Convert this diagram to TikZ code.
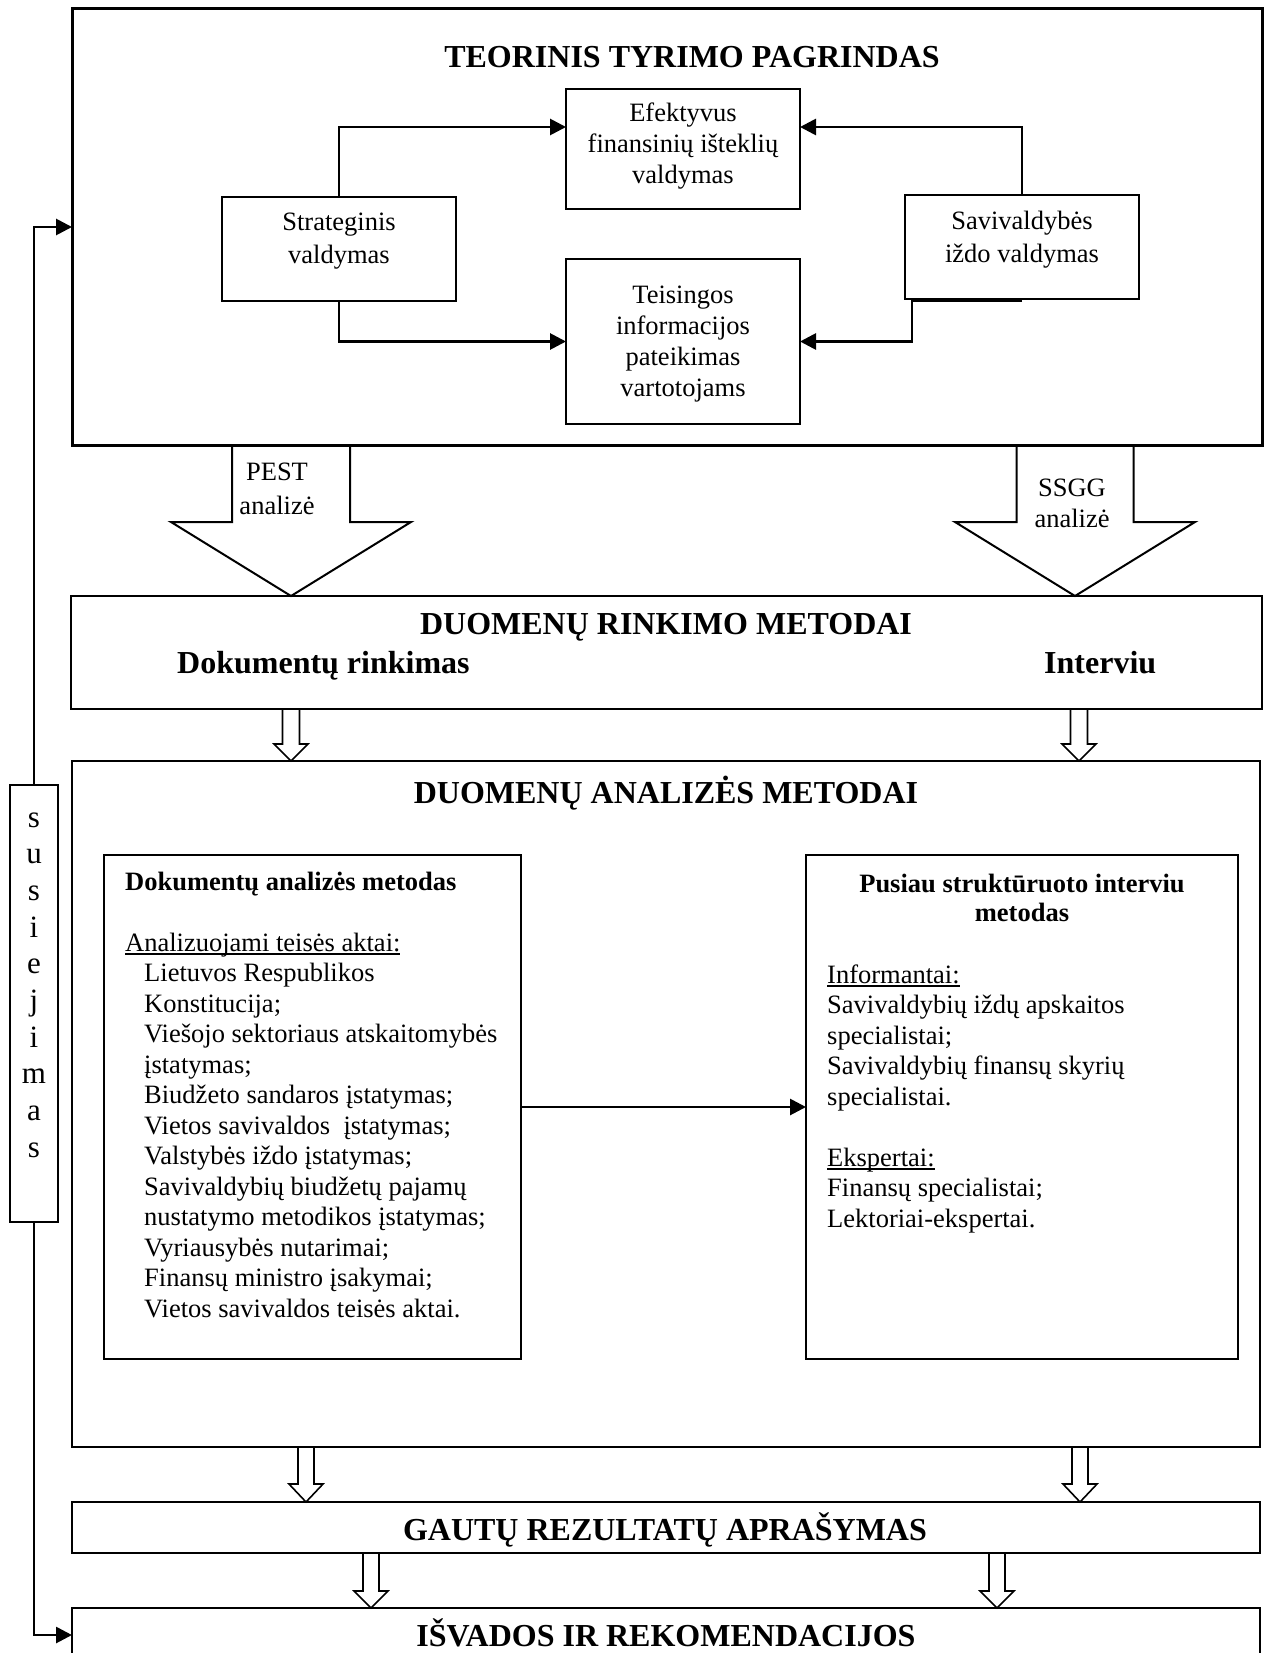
\documentclass[tikz,border=0pt]{standalone}
\usepackage{fontspec}
\setmainfont{Liberation Serif}
\usetikzlibrary{arrows.meta,calc,backgrounds}

% stacked lines whose baseline is the first line
\newcommand\colc[1]{\begin{tabular}[t]{@{}c@{}}#1\end{tabular}}
\newcommand\coll[1]{\begin{tabular}[t]{@{}l@{}}#1\end{tabular}}
% close underline
\newcommand\undl[1]{\setbox0\hbox{#1}\rlap{\rule[-3.5pt]{\wd0}{1.3pt}}\box0}
% fonts
\newcommand\fbody{\fontsize{26.5}{31}\selectfont}
\newcommand\fpair{\fontsize{26.5}{32.5}\selectfont}
\newcommand\flist{\fontsize{26.5}{30.5}\selectfont}
\newcommand\fhead{\fontsize{26.5}{29}\selectfont\bfseries}
\newcommand\ftitle{\fontsize{32}{38}\selectfont\bfseries}
\newcommand\fvert{\fontsize{31}{36.7}\selectfont}

% hollow block arrow pointing down: [style]{source}{target}{x}{shaft half}{head half}{head length}
\newcommand\blockdown[7][]{%
  \draw[blk,#1] (#4-#5,0 |- #2.south)
    -- ($(#4,0 |- #3.north)+(-#5,-#7)$)
    -- ($(#4,0 |- #3.north)+(-#6,-#7)$)
    -- (#4,0 |- #3.north)
    -- ($(#4,0 |- #3.north)+(#6,-#7)$)
    -- ($(#4,0 |- #3.north)+(#5,-#7)$)
    -- (#4+#5,0 |- #2.south);}

\tikzset{
  box/.style={draw, line width=1.4pt, rectangle, inner sep=0pt, outer sep=0pt, anchor=north west},
  txt/.style={inner sep=0pt, anchor=base},
  ltxt/.style={inner sep=0pt, anchor=base west},
  conn/.style={line width=2.8pt, -{Triangle[length=16pt,width=16pt]}},
  blk/.style={draw, fill=white, line width=2pt, line join=miter},
  small/.style={line width=1.6pt},
}

\begin{document}
\begin{tikzpicture}[x=1pt, y=-1pt]
\useasboundingbox (0,0) rectangle (1265,1653);

% ---- boxes ----
\node[box, line width=3pt, minimum width=1190pt, minimum height=436pt] (teo) at (72,9) {};
\node[box, minimum width=234pt, minimum height=120pt] (eff) at (566,89) {};
\node[box, minimum width=234pt, minimum height=165pt] (teis) at (566,259) {};
\node[box, minimum width=234pt, minimum height=104pt] (strat) at (222,197) {};
\node[box, minimum width=234pt, minimum height=104pt] (sav) at (905,195) {};
\node[box, minimum width=1191pt, minimum height=113pt] (rink) at (71,596) {};
\node[box, minimum width=1188pt, minimum height=686pt] (anal) at (72,761) {};
\node[box, minimum width=417pt, minimum height=504pt] (dam) at (104,855) {};
\node[box, minimum width=432pt, minimum height=504pt] (sim) at (806,855) {};
\node[box, minimum width=1188pt, minimum height=51pt] (gaut) at (72,1502) {};
\node[box, minimum width=1188pt, minimum height=60pt] (isv) at (72,1608) {};
\node[box, minimum width=48pt, minimum height=437pt] (sus) at (10,785) {};

% ---- texts ----
\node[txt, font=\ftitle] (teo-t) at (692,68) {TEORINIS TYRIMO PAGRINDAS};
\node[txt, font=\fbody] (eff-t) at (683,122) {\colc{Efektyvus\\finansinių išteklių\\valdymas}};
\node[txt, font=\fbody] (teis-t) at (683,303) {\colc{Teisingos\\informacijos\\pateikimas\\vartotojams}};
\node[txt, font=\fpair] (strat-t) at (339,231) {\colc{Strateginis\\valdymas}};
\node[txt, font=\fpair] (sav-t) at (1022,230) {\colc{Savivaldybės\\iždo valdymas}};

\node[txt, font=\fontsize{26.5}{34}\selectfont] (pest-t) at (277,480) {\colc{PEST\\analizė}};
\node[txt, font=\fontsize{26.5}{31}\selectfont] (ssgg-t) at (1072,496) {\colc{SSGG\\analizė}};

\node[txt, font=\ftitle] (rink-t) at (666,634) {DUOMENŲ RINKIMO METODAI};
\node[ltxt, font=\ftitle] (doc-t) at (177,673) {Dokumentų rinkimas};
\node[ltxt, font=\ftitle] (int-t) at (1044,673) {Interviu};

\node[txt, font=\ftitle] (anal-t) at (666,803) {DUOMENŲ ANALIZĖS METODAI};

\node[ltxt, font=\flist] (dam-t) at (125,890) {\coll{%
  \textbf{Dokumentų analizės metodas}\\
  \\
  \undl{Analizuojami teisės aktai:}\\
  \hspace*{19pt}Lietuvos Respublikos\\
  \hspace*{19pt}Konstitucija;\\
  \hspace*{19pt}Viešojo sektoriaus atskaitomybės\\
  \hspace*{19pt}įstatymas;\\
  \hspace*{19pt}Biudžeto sandaros įstatymas;\\
  \hspace*{19pt}Vietos savivaldos\ \ įstatymas;\\
  \hspace*{19pt}Valstybės iždo įstatymas;\\
  \hspace*{19pt}Savivaldybių biudžetų pajamų\\
  \hspace*{19pt}nustatymo metodikos įstatymas;\\
  \hspace*{19pt}Vyriausybės nutarimai;\\
  \hspace*{19pt}Finansų ministro įsakymai;\\
  \hspace*{19pt}Vietos savivaldos teisės aktai.}};

\node[txt, font=\fhead] (sim-h) at (1022,892) {\colc{Pusiau struktūruoto interviu\\metodas}};
\node[ltxt, font=\flist] (sim-t) at (827,983) {\coll{%
  \undl{Informantai:}\\
  Savivaldybių iždų apskaitos\\
  specialistai;\\
  Savivaldybių finansų skyrių\\
  specialistai.\\
  \\
  \undl{Ekspertai:}\\
  Finansų specialistai;\\
  Lektoriai-ekspertai.}};

\node[txt, font=\ftitle] (gaut-t) at (665,1540) {GAUTŲ REZULTATŲ APRAŠYMAS};
\node[txt, font=\ftitle] (isv-t) at (666,1646) {IŠVADOS IR REKOMENDACIJOS};

\node[txt, font=\fvert] (sus-t) at (34,827) {\colc{s\\u\\s\\i\\e\\j\\i\\m\\a\\s}};

% ---- connectors ----
\draw[conn] (strat.north) |- ([yshift=22pt]eff.west);
\draw[conn] (strat.south) |- (teis.west);
\draw[conn] (sav.north) |- ([yshift=22pt]eff.east);
\coordinate (savk) at (912,301);
\draw[conn] ([yshift=-2pt]sav.south) -- (savk) |- (teis.east);
\draw[conn] (sus.north) |- (teo.west);
\draw[conn] (sus.south) |- ([yshift=3pt]isv.west);
\draw[conn] (dam.east) -- (sim.west);

% ---- block arrows between stages ----
\begin{pgfonlayer}{background}
\blockdown{teo}{rink}{291}{59}{120}{74}
\blockdown{teo}{rink}{1075}{58.5}{120}{74}
\blockdown[small]{rink}{anal}{291}{8.5}{17}{17}
\blockdown[small]{rink}{anal}{1079}{8.5}{17}{17}
\blockdown[small]{anal}{gaut}{306}{8}{17}{18}
\blockdown[small]{anal}{gaut}{1080}{8}{17}{18}
\blockdown[small]{gaut}{isv}{371}{8}{17}{17}
\blockdown[small]{gaut}{isv}{997}{8}{17}{17}
\end{pgfonlayer}
\end{tikzpicture}
\end{document}
